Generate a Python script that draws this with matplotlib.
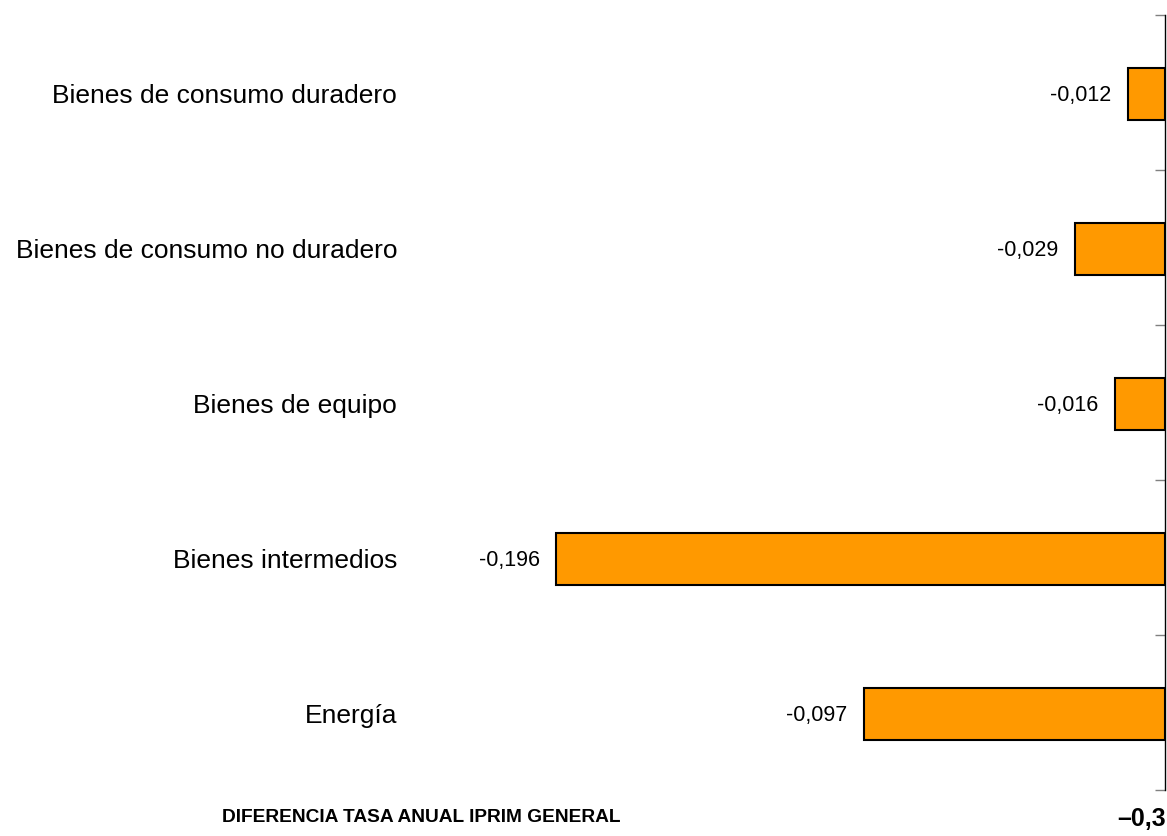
import numpy as np
import matplotlib
matplotlib.use("Agg")
import matplotlib.pyplot as plt
from matplotlib import transforms

plt.rcParams['font.family'] = ['Liberation Sans', 'DejaVu Sans']

# Data (top to bottom)
categorias = ['Bienes de consumo duradero', 'Bienes de consumo no duradero',
              'Bienes de equipo', 'Bienes intermedios', 'Energía']
valores = [-0.012, -0.029, -0.016, -0.196, -0.097]
etiquetas = ['-0,012', '-0,029', '-0,016', '-0,196', '-0,097']
total_texto = 'DIFERENCIA TASA ANUAL IPRIM GENERAL'
total_valor = '\u20130,3'

W, H = 1167, 836
fig = plt.figure(figsize=(W / 100, H / 100), dpi=100)
left_px, right_px, top_px, bottom_px = 410, 1165, 15, 790
ax = fig.add_axes([left_px / W, 1 - bottom_px / H,
                   (right_px - left_px) / W, (bottom_px - top_px) / H])

scale = 3105.0  # px per unit
ax.set_xlim(-(right_px - left_px) / scale, 0)
ax.set_ylim(-0.5, len(categorias) - 0.5)

y = np.arange(len(categorias))[::-1]
ax.barh(y - 0.01, valores, height=0.34, color='#FF9900', edgecolor='black', linewidth=1.5)

for yi, v, lab in zip(y, valores, etiquetas):
    ax.annotate(lab, (v, yi - 0.02), xytext=(-12, 0), textcoords='offset points',
                ha='right', va='center', fontsize=15.5)

trans = transforms.blended_transform_factory(ax.transAxes, ax.transData)
for yi, cat in zip(y, categorias):
    ax.text(-13 / (right_px - left_px), yi - 0.02, cat, transform=trans,
            ha='right', va='center', fontsize=19)

# spines / ticks
for s in ['left', 'top', 'bottom']:
    ax.spines[s].set_visible(False)
ax.spines['right'].set_linewidth(1.0)
ax.spines['right'].set_color('black')
ax.set_xticks([])
ax.yaxis.tick_right()
ax.set_yticks(np.arange(-0.5, len(categorias), 1.0))
ax.set_yticklabels([])
ax.tick_params(axis='y', direction='in', length=7, color='#808080', width=1)

fig.text(620 / W, 1 - 817 / H, total_texto, ha='right', va='center',
         fontsize=13.8, fontweight='bold')
fig.text(1166 / W, 1 - 819 / H, total_valor, ha='right', va='center',
         fontsize=18, fontweight='bold')

fig.savefig('out.png', dpi=100, facecolor='white')
